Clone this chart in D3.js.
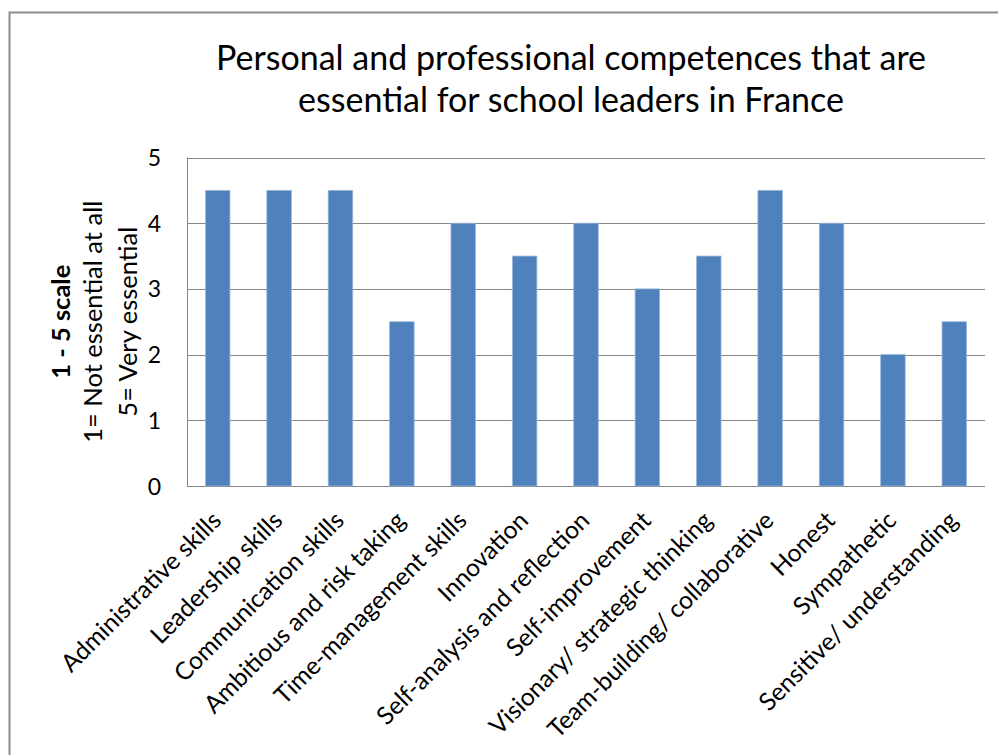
<!DOCTYPE html>
<html><head><meta charset="utf-8">
<script src="https://cdn.jsdelivr.net/npm/d3@7"></script>
<style>body{margin:0;background:#fff}svg{display:block}</style>
</head><body>
<script>
const categories = ["Administrative skills","Leadership skills","Communication skills","Ambitious and risk taking","Time-management skills","Innovation","Self-analysis and reflection","Self-improvement","Visionary/ strategic thinking","Team-building/ collaborative","Honest","Sympathetic","Sensitive/ understanding"];
const values = [4.5,4.5,4.5,2.5,4,3.5,4,3,3.5,4.5,4,2,2.5];
const yTicks = [0,1,2,3,4,5];
const titleLines = ["Personal and professional competences that are","essential for school leaders in France"];
const yTitle = ["1 - 5 scale","1= Not essential at all","5= Very essential"];

const W=998,H=755;
const font="Lato, 'Open Sans', sans-serif";
const svg=d3.select("body").append("svg").attr("width",W).attr("height",H);
svg.append("rect").attr("x",9.5).attr("y",12.5).attr("width",W).attr("height",H).attr("fill","#fff").attr("stroke","#8c8c8c").attr("stroke-width",2);

const L=187,R=985,T=157.5,B=486;
const x=d3.scaleBand().domain(categories).range([L,R]).paddingInner(0.6).paddingOuter(0.3);
const y=d3.scaleLinear().domain([0,5]).range([B,T]);

svg.append("g").selectAll("line").data(yTicks).join("line")
 .attr("x1",L).attr("x2",R).attr("y1",d=>Math.round(y(d))+0.5).attr("y2",d=>Math.round(y(d))+0.5)
 .attr("stroke","#868686").attr("stroke-width",1);
svg.append("line").attr("x1",L+0.5).attr("x2",L+0.5).attr("y1",T).attr("y2",B).attr("stroke","#868686");

svg.append("g").selectAll("rect").data(values).join("rect")
 .attr("x",(d,i)=>x(categories[i])).attr("width",x.bandwidth())
 .attr("y",d=>y(d)).attr("height",d=>B-y(d))
 .attr("fill","#4f81bd").attr("stroke","#9db9dc").attr("stroke-width",0.8);

const yAxis=d3.axisLeft(y).tickValues(yTicks).tickFormat(d3.format("d")).tickSize(0).tickPadding(0);
const ga=svg.append("g").attr("transform",`translate(${L-26},0)`).call(yAxis);
ga.select(".domain").remove();
ga.selectAll("text").attr("font-family",font).attr("font-size",23).attr("fill","#000").attr("dy","0.35em");

const xAxis=d3.axisBottom(x).tickSize(0).tickPadding(0);
const gx=svg.append("g").attr("transform",`translate(0,${B})`).call(xAxis);
gx.select(".domain").remove();
gx.selectAll("text").attr("font-family",font).attr("font-size",24.6).attr("fill","#000")
 .attr("text-anchor","end").attr("dy",null).attr("y",null)
 .attr("transform","translate(5,36) rotate(-45)");

svg.append("g").selectAll("text").data(titleLines).join("text")
 .attr("x",571).attr("y",(d,i)=>70+i*42).attr("text-anchor","middle")
 .attr("font-family",font).attr("font-size",34).attr("fill","#000").text(d=>d);

const yc=(T+B)/2;
svg.append("g").selectAll("text").data(yTitle).join("text")
 .attr("transform",(d,i)=>`translate(${[70,102,137][i]},${yc}) rotate(-90)`)
 .attr("text-anchor","middle").attr("font-family",font).attr("font-size",25.5)
 .attr("font-weight",(d,i)=>i==0?"bold":"normal").attr("fill","#000").text(d=>d);
</script>
</body></html>
